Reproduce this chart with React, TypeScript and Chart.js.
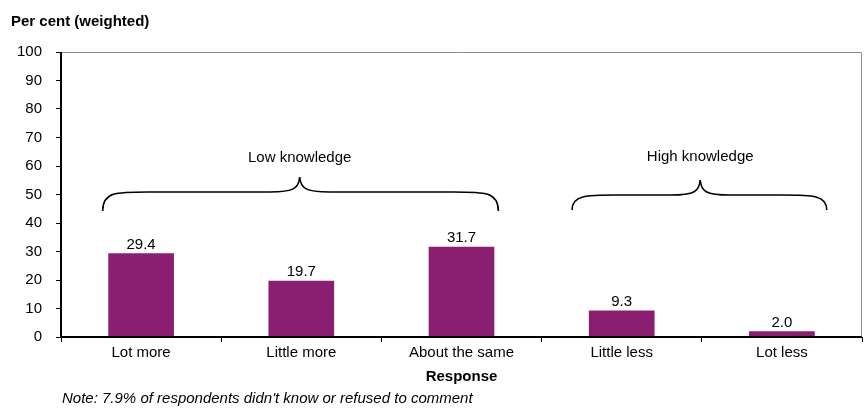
import React, { useEffect, useRef } from "react";
import { Chart, registerables } from "chart.js";

Chart.register(...registerables);

const categories = ["Lot more", "Little more", "About the same", "Little less", "Lot less"];
const values = [29.4, 19.7, 31.7, 9.3, 2.0];
const yTicks = [0, 10, 20, 30, 40, 50, 60, 70, 80, 90, 100];
const yTitle = "Per cent (weighted)";
const xTitle = "Response";
const note = "Note: 7.9% of respondents didn't know or refused to comment";

// Group braces, expressed in data coordinates (category index, value)
const braceLabels = ["Low knowledge", "High knowledge"];
const braceStart = [-0.24, 2.69];
const braceCentre = [0.99, 3.49];
const braceEnd = [2.23, 4.28];
const braceEndValue = [44.2, 44.6];
const braceMidValue = [50.9, 49.8];
const bracePeakValue = [56.1, 55.1];
const braceLabelValue = [62.8, 63.2];

const FONT = "'Liberation Sans', Arial, sans-serif";
const BAR_COLOR = "#8A1F72";

const extrasPlugin = {
  id: "extras",
  afterDatasetsDraw(chart: any) {
    const { ctx, chartArea, scales } = chart;
    const xs = scales.x;
    const ys = scales.y;
    ctx.save();
    // frame: gray top and right
    ctx.strokeStyle = "#8c8c8c";
    ctx.lineWidth = 1;
    ctx.beginPath();
    ctx.moveTo(chartArea.left, chartArea.top + 0.5);
    ctx.lineTo(chartArea.right - 0.5, chartArea.top + 0.5);
    ctx.lineTo(chartArea.right - 0.5, chartArea.bottom);
    ctx.stroke();
    // black axes
    ctx.strokeStyle = "#000";
    ctx.lineWidth = 2;
    ctx.beginPath();
    ctx.moveTo(chartArea.left, chartArea.top);
    ctx.lineTo(chartArea.left, chartArea.bottom);
    ctx.lineTo(chartArea.right, chartArea.bottom);
    ctx.stroke();

    // value labels
    ctx.fillStyle = "#000";
    ctx.font = `15px ${FONT}`;
    ctx.textAlign = "center";
    ctx.textBaseline = "bottom";
    const meta = chart.getDatasetMeta(0);
    meta.data.forEach((bar: any, i: number) => {
      ctx.fillText(values[i].toFixed(1), bar.x, bar.y - 1);
    });

    // braces
    ctx.lineWidth = 1.6;
    ctx.strokeStyle = "#000";
    for (let b = 0; b < braceLabels.length; b++) {
      const x0 = xs.getPixelForValue(braceStart[b]);
      const xc = xs.getPixelForValue(braceCentre[b]);
      const x1 = xs.getPixelForValue(braceEnd[b]);
      const yE = ys.getPixelForValue(braceEndValue[b]);
      const yM = ys.getPixelForValue(braceMidValue[b]);
      const yP = ys.getPixelForValue(bracePeakValue[b]);
      const r = 45;
      const rc = 30;
      ctx.beginPath();
      ctx.moveTo(x0, yE);
      ctx.bezierCurveTo(x0, yM, x0 + r * 0.3, yM, x0 + r, yM);
      ctx.lineTo(xc - rc, yM);
      ctx.bezierCurveTo(xc - 5, yM, xc - 1, yM - 4, xc, yP);
      ctx.bezierCurveTo(xc + 1, yM - 4, xc + 5, yM, xc + rc, yM);
      ctx.lineTo(x1 - r, yM);
      ctx.bezierCurveTo(x1 - r * 0.3, yM, x1, yM, x1, yE);
      ctx.stroke();
      ctx.textBaseline = "middle";
      ctx.fillText(braceLabels[b], xc, ys.getPixelForValue(braceLabelValue[b]));
    }

    // titles and note
    ctx.font = `bold 15px ${FONT}`;
    ctx.textAlign = "left";
    ctx.textBaseline = "middle";
    ctx.fillText(yTitle, 11, 22);
    ctx.textAlign = "center";
    ctx.fillText(xTitle, (chartArea.left + chartArea.right) / 2, 377);
    ctx.font = `italic 15px ${FONT}`;
    ctx.textAlign = "left";
    ctx.fillText(note, 62, 399);
    ctx.restore();
  },
};

export default function App() {
  const ref = useRef<HTMLCanvasElement>(null);
  useEffect(() => {
    document.body.style.margin = "0";
    const chart = new Chart(ref.current!, {
      type: "bar",
      data: {
        labels: categories,
        datasets: [
          {
            data: values,
            backgroundColor: BAR_COLOR,
            borderWidth: 0,
            categoryPercentage: 1,
            barPercentage: 0.41,
          },
        ],
      },
      options: {
        animation: false,
        responsive: true,
        maintainAspectRatio: false,
        layout: { padding: { left: 0, right: 4, top: 52, bottom: 0 } },
        plugins: { legend: { display: false }, tooltip: { enabled: false } },
        scales: {
          x: {
            afterFit(s: any) {
              s.height = 73;
            },
            border: { display: false },
            grid: { drawOnChartArea: false, drawTicks: true, tickLength: 5, color: "#000", offset: true },
            ticks: { color: "#000", font: { size: 15, family: FONT }, padding: 2, maxRotation: 0 },
          },
          y: {
            min: 0,
            max: 100,
            afterFit(s: any) {
              s.width = 61;
            },
            afterBuildTicks(s: any) {
              s.ticks = yTicks.map((v) => ({ value: v }));
            },
            border: { display: false },
            grid: { drawOnChartArea: false, drawTicks: true, tickLength: 5, color: "#000" },
            ticks: { color: "#000", font: { size: 15, family: FONT }, padding: 14 },
          },
        },
      },
      plugins: [extrasPlugin],
    });
    return () => chart.destroy();
  }, []);
  return (
    <div style={{ width: 866, height: 410, position: "relative" }}>
      <canvas ref={ref} />
    </div>
  );
}
